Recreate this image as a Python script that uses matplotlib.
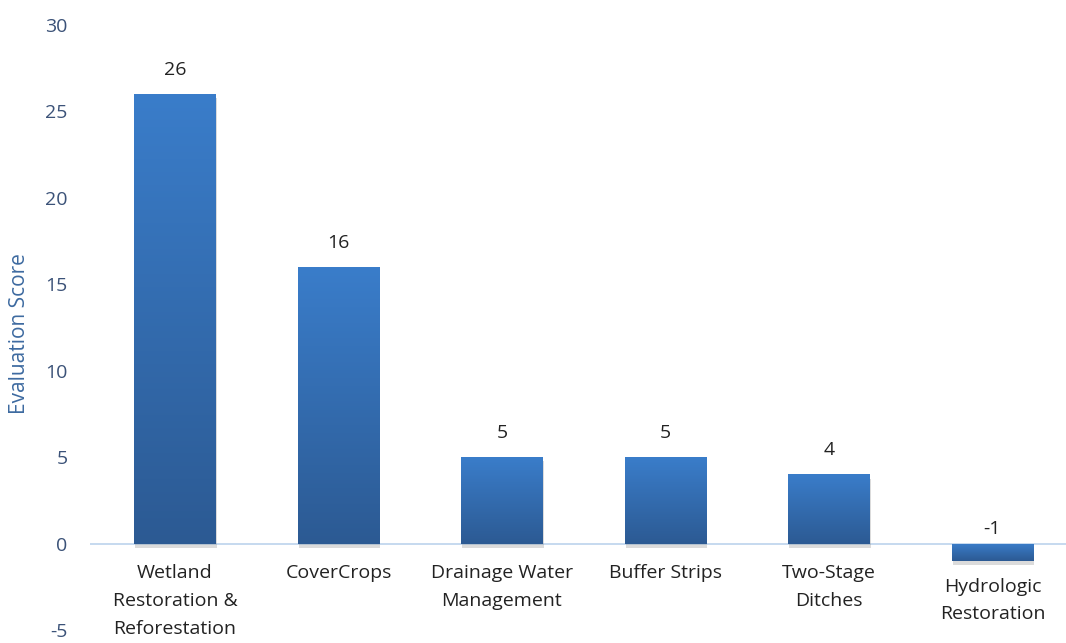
import numpy as np
import matplotlib
matplotlib.use("Agg")
from matplotlib import pyplot as plt
import matplotlib.colors as mcolors
import matplotlib.patheffects as pe

practices = ["Wetland\nRestoration &\nReforestation", "CoverCrops", "Drainage Water\nManagement",
             "Buffer Strips", "Two-Stage\nDitches", "Hydrologic\nRestoration"]
scores = [26, 16, 5, 5, 4, -1]
yticks = [-5, 0, 5, 10, 15, 20, 25, 30]

plt.rcParams['font.family'] = ['Open Sans', 'DejaVu Sans']

fig = plt.figure(figsize=(10.66, 6.43), dpi=100)
ax = fig.add_axes([0.0844, 0.0202, 0.9156, 0.941])

grad = mcolors.LinearSegmentedColormap.from_list("barfill", ["#2c5a93", "#3a7dca"])
width = 0.5
x = np.arange(len(scores))

bars = ax.bar(x, scores, width=width, color="#3470b5", zorder=2,
              path_effects=[pe.SimplePatchShadow(offset=(0.8, -3), shadow_rgbFace="#888888", alpha=0.3),
                            pe.Normal()])

for xi, v, bar in zip(x, scores, bars):
    lo, hi = min(v, 0), max(v, 0)
    img = ax.imshow(np.linspace(0, 1, 256).reshape(-1, 1), cmap=grad, origin="lower",
                    extent=[xi - width / 2, xi + width / 2, lo, hi], aspect="auto", zorder=3)
    img.set_clip_path(bar)
    # value above the bar (or just above the baseline for negatives)
    ax.annotate(str(v), (xi, hi), xytext=(0, 11 if v >= 0 else 4), textcoords="offset points",
                ha="center", va="bottom", fontsize=14, color="#222222")
    # category label below the bar
    ax.annotate(practices[xi], (xi, lo), xytext=(0, -15 if v >= 0 else -12),
                textcoords="offset points", ha="center", va="top", fontsize=14,
                color="#222222", linespacing=1.7)

ax.axhline(0, color="#bcd3ec", lw=1.2, zorder=1)

ax.set_xlim(-0.52, 5.45)
ax.set_ylim(-5, 30)
ax.set_yticks(yticks)
ax.set_yticklabels([str(t) for t in yticks], fontsize=14, color="#3b5278")
ax.set_xticks([])
ax.tick_params(axis="y", length=0, pad=16)
for s in ax.spines.values():
    s.set_visible(False)

ax.set_ylabel("Evaluation Score", fontsize=15, color="#3d6aa0")
ax.yaxis.set_label_coords(-0.061, 0.49)

fig.savefig("out.png", dpi=100)
